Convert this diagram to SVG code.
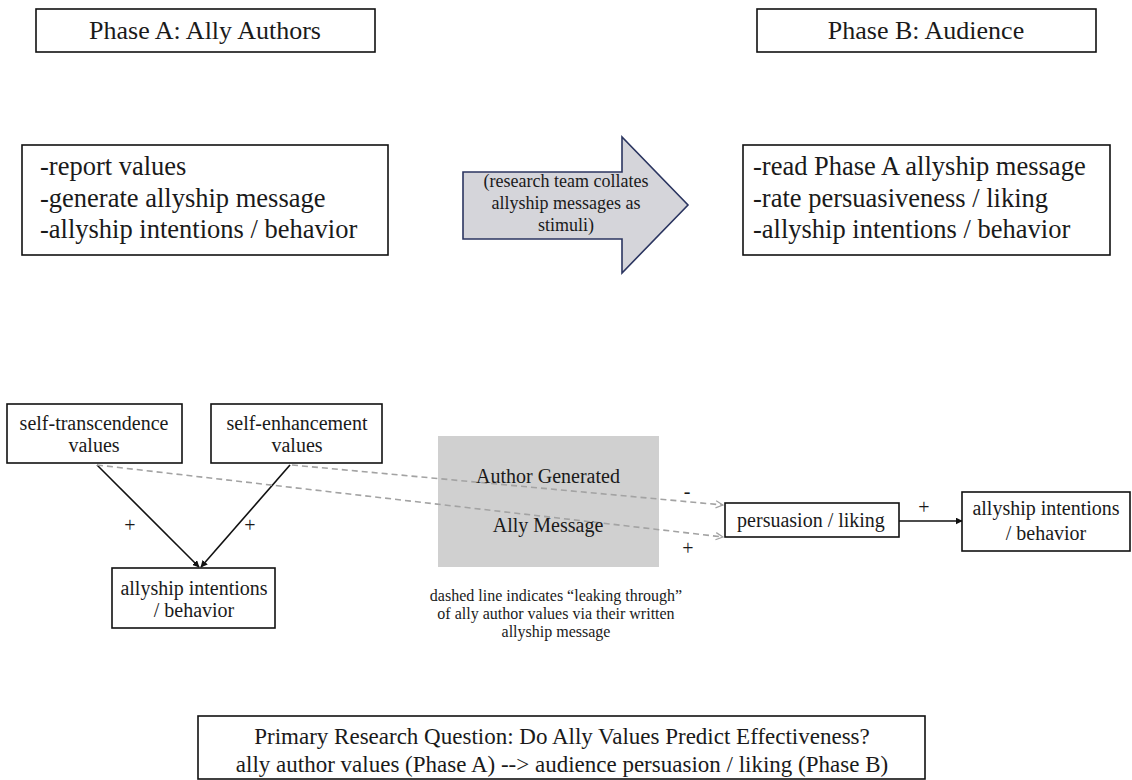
<svg xmlns="http://www.w3.org/2000/svg" width="1132" height="780" viewBox="0 0 1132 780">
  <style>
    .box { fill: #ffffff; stroke: #111111; stroke-width: 1.6; }
    .t { font-family: "Liberation Serif", "Times New Roman", serif; fill: #1a1a1a; }
    .title { font-size: 26px; text-anchor: middle; }
    .list { font-size: 26.5px; }
    .node { font-size: 20px; text-anchor: middle; }
    .note { font-size: 16px; text-anchor: middle; }
    .sign { font-size: 20px; text-anchor: middle; }
    .solid { fill: none; stroke: #111111; stroke-width: 1.6; }
    .dash { fill: none; stroke: #a3a3a3; stroke-width: 1.6; stroke-dasharray: 6 4; }
  </style>
  <defs>
    <marker id="headSolid" viewBox="0 0 10 10" refX="9" refY="5" markerWidth="7" markerHeight="7" orient="auto" markerUnits="userSpaceOnUse">
      <path d="M0,0 L10,5 L0,10 z" fill="#111111"/>
    </marker>
    <marker id="headOpen" viewBox="0 0 10 10" refX="9" refY="5" markerWidth="9" markerHeight="9" orient="auto" markerUnits="userSpaceOnUse">
      <path d="M1,1 L9,5 L1,9" fill="none" stroke="#a3a3a3" stroke-width="1.4"/>
    </marker>
  </defs>
  <rect width="1132" height="780" fill="#ffffff"/>

  <!-- phase headers -->
  <g id="phaseA-title">
    <rect class="box" x="36" y="9" width="339" height="43"/>
    <text class="t title" x="205" y="39">Phase A: Ally Authors</text>
  </g>
  <g id="phaseB-title">
    <rect class="box" x="757" y="9" width="339" height="43"/>
    <text class="t title" x="926" y="39">Phase B: Audience</text>
  </g>

  <!-- phase task lists -->
  <g id="phaseA-tasks">
    <rect class="box" x="22" y="145" width="366" height="110"/>
    <text class="t list" x="40" y="175">-report values</text>
    <text class="t list" x="40" y="207">-generate allyship message</text>
    <text class="t list" x="40" y="238">-allyship intentions / behavior</text>
  </g>
  <g id="phaseB-tasks">
    <rect class="box" x="743" y="145" width="367" height="110"/>
    <text class="t list" x="753" y="175">-read Phase A allyship message</text>
    <text class="t list" x="753" y="207">-rate persuasiveness / liking</text>
    <text class="t list" x="753" y="238">-allyship intentions / behavior</text>
  </g>

  <!-- block arrow between phases -->
  <g id="collate-arrow">
    <polygon points="463,172 622,172 622,137 688,205 622,273 622,239 463,239" fill="#d5d5da" stroke="#2b3560" stroke-width="1.6"/>
    <text class="t" font-size="18" text-anchor="middle" x="566" y="187">(research team collates</text>
    <text class="t" font-size="18" text-anchor="middle" x="566" y="209">allyship messages as</text>
    <text class="t" font-size="18" text-anchor="middle" x="566" y="231">stimuli)</text>
  </g>

  <!-- message block (drawn beneath the dashed paths) -->
  <g id="message">
    <rect x="438" y="436" width="221" height="131" fill="#d0d0d0"/>
  </g>

  <!-- connectors -->
  <g id="connectors">
    <path class="solid" d="M97,465 L199,567" marker-end="url(#headSolid)"/>
    <path class="solid" d="M290,465 L201,567" marker-end="url(#headSolid)"/>
    <path class="dash" d="M292,465 L723,505" marker-end="url(#headOpen)"/>
    <path class="dash" d="M97,465 L723,537" marker-end="url(#headOpen)"/>
    <path class="solid" d="M899,521 L962,521" marker-end="url(#headSolid)"/>
    <text class="t sign" x="130" y="532">+</text>
    <text class="t sign" x="250" y="532">+</text>
    <text class="t sign" x="687" y="498">-</text>
    <text class="t sign" x="688" y="555">+</text>
    <text class="t sign" x="924" y="514">+</text>
  </g>

  <g id="message-label">
    <text class="t node" x="548" y="483">Author Generated</text>
    <text class="t node" x="548" y="532">Ally Message</text>
  </g>

  <!-- value nodes -->
  <g id="self-transcendence">
    <rect class="box" x="7" y="404" width="175" height="59"/>
    <text class="t node" x="94" y="430">self-transcendence</text>
    <text class="t node" x="94" y="452">values</text>
  </g>
  <g id="self-enhancement">
    <rect class="box" x="211" y="404" width="171" height="59"/>
    <text class="t node" x="297" y="430">self-enhancement</text>
    <text class="t node" x="297" y="452">values</text>
  </g>
  <g id="author-allyship">
    <rect class="box" x="112" y="568" width="163" height="60"/>
    <text class="t node" x="194" y="595">allyship intentions</text>
    <text class="t node" x="194" y="617">/ behavior</text>
  </g>

  <!-- audience nodes -->
  <g id="persuasion">
    <rect class="box" x="725" y="503" width="174" height="34"/>
    <text class="t node" x="811" y="527">persuasion / liking</text>
  </g>
  <g id="audience-allyship">
    <rect class="box" x="962" y="492" width="168" height="59"/>
    <text class="t node" x="1046" y="515">allyship intentions</text>
    <text class="t node" x="1046" y="540">/ behavior</text>
  </g>

  <!-- explanatory note -->
  <g id="note">
    <text class="t note" x="556" y="601">dashed line indicates “leaking through”</text>
    <text class="t note" x="556" y="619">of ally author values via their written</text>
    <text class="t note" x="556" y="637">allyship message</text>
  </g>

  <!-- research question -->
  <g id="research-question">
    <rect class="box" x="198" y="716" width="727" height="63"/>
    <text class="t" font-size="23" text-anchor="middle" x="562" y="744">Primary Research Question: Do Ally Values Predict Effectiveness?</text>
    <text class="t" font-size="23" text-anchor="middle" x="562" y="772">ally author values (Phase A) --&gt; audience persuasion / liking (Phase B)</text>
  </g>
</svg>
